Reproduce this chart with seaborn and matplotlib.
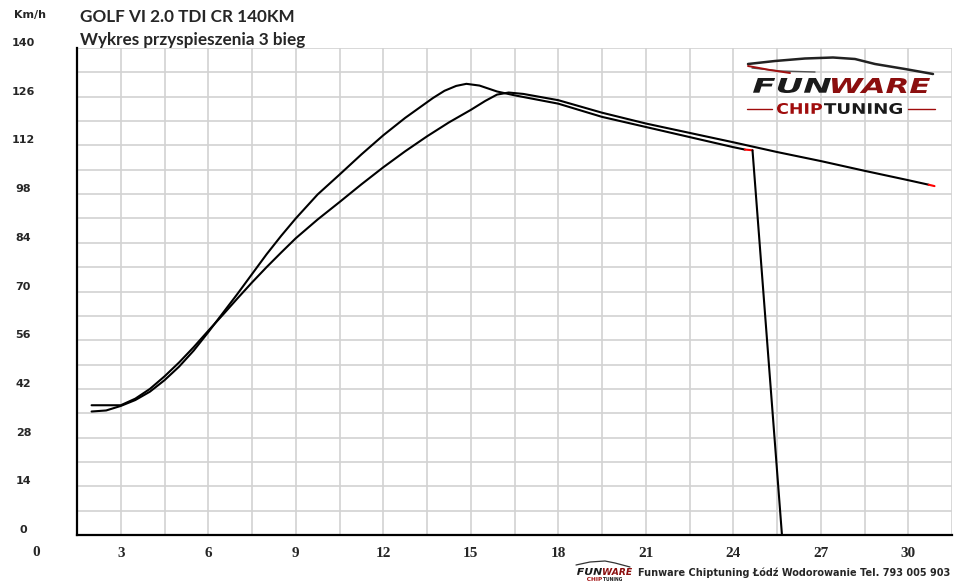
import numpy as np
import pandas as pd
import matplotlib
matplotlib.use("Agg")
import matplotlib.pyplot as plt
import seaborn as sns
from matplotlib.textpath import TextPath
from matplotlib.patches import PathPatch
from matplotlib.font_manager import FontProperties
from matplotlib.transforms import Affine2D

# speed [km/h] vs time [s], 3rd gear pull, two runs
run_a_time = [2.0, 2.5, 3.0, 3.5, 4.0, 4.5, 5.0, 5.5, 6.0, 6.5, 7.0, 7.5, 8.0, 8.5,
              9.0, 9.75, 10.5, 11.25, 12.0, 12.75, 13.25, 13.7, 14.1, 14.5, 14.85,
              15.3, 15.9, 16.5, 17.25, 18.0, 19.5, 21.0, 22.5, 24.0, 24.4, 24.66, 25.67]
run_a_speed = [35.5, 35.8, 37.1, 38.8, 41.2, 44.5, 48.4, 53.0, 58.3, 63.8, 69.3, 75.0,
               80.7, 86.0, 91.0, 97.9, 103.6, 109.4, 114.9, 119.9, 122.9, 125.6, 127.7,
               129.1, 129.7, 129.2, 127.5, 126.4, 125.2, 124.0, 120.2, 117.3, 114.4,
               111.5, 110.8, 110.6, 0.0]

run_b_time = [2.0, 2.5, 3.0, 3.5, 4.0, 4.5, 5.0, 5.5, 6.0, 6.5, 7.0, 7.5, 8.0, 8.5,
              9.0, 9.75, 10.5, 11.25, 12.0, 12.75, 13.5, 14.25, 15.0, 15.5, 15.9,
              16.3, 16.8, 17.4, 18.0, 19.5, 21.0, 22.5, 24.0, 25.5, 27.0, 28.5,
              30.0, 30.7, 30.9]
run_b_speed = [37.3, 37.3, 37.3, 39.2, 42.0, 45.6, 49.6, 54.0, 58.7, 63.3, 68.0, 72.6,
               77.0, 81.2, 85.3, 90.7, 95.7, 100.8, 105.7, 110.3, 114.6, 118.6, 122.2,
               124.8, 126.6, 127.2, 126.8, 125.9, 125.0, 121.4, 118.3, 115.6, 112.9,
               110.1, 107.5, 104.7, 102.0, 100.7, 100.3]

x_ticks = [3, 6, 9, 12, 15, 18, 21, 24, 27, 30]
y_ticks = [0, 14, 28, 42, 56, 70, 84, 98, 112, 126, 140]

title_1 = "GOLF VI 2.0 TDI CR 140KM"
title_2 = "Wykres przyspieszenia 3 bieg"
footer = "Funware Chiptuning Łódź Wodorowanie Tel. 793 005 903"

run_a = pd.DataFrame({"t": run_a_time, "v": run_a_speed})
run_b = pd.DataFrame({"t": run_b_time, "v": run_b_speed})

sns.set_style("white")
plt.rcParams["font.family"] = ["DejaVu Sans"]

W, H = 960, 584
fig = plt.figure(figsize=(W / 100, H / 100), dpi=100)
ax = fig.add_axes([77 / W, 1 - 535 / H, (952 - 77) / W, (535 - 48) / H])

# curves (black, with the short red end segment)
sns.lineplot(data=run_a.iloc[:-2], x="t", y="v", color="black", lw=1.5,
             estimator=None, sort=False, ax=ax)
sns.lineplot(data=run_a.iloc[-3:-1], x="t", y="v", color="red", lw=1.5,
             estimator=None, sort=False, ax=ax)
sns.lineplot(data=run_a.iloc[-2:], x="t", y="v", color="black", lw=1.5,
             estimator=None, sort=False, ax=ax)
sns.lineplot(data=run_b.iloc[:-1], x="t", y="v", color="black", lw=1.5,
             estimator=None, sort=False, ax=ax)
sns.lineplot(data=run_b.iloc[-2:], x="t", y="v", color="red", lw=1.5,
             estimator=None, sort=False, ax=ax)

ax.set_xlim(1.5, 31.5)
ax.set_ylim(0, 140)
ax.set_xlabel("")
ax.set_ylabel("")

ax.set_xticks(x_ticks, labels=[str(v) for v in x_ticks])
ax.set_xticks(np.arange(1.5, 31.6, 3), minor=True)
ax.set_yticks(y_ticks, labels=[str(v) for v in y_ticks])
ax.set_yticks(np.arange(7, 140, 14), minor=True)
ax.grid(True, which="both", color="#d2d2d2", lw=1.2)
ax.set_axisbelow(True)

for side in ["top", "right"]:
    ax.spines[side].set_visible(False)
for side in ["left", "bottom"]:
    ax.spines[side].set_color("black")
    ax.spines[side].set_linewidth(1.6)

ax.tick_params(axis="both", which="both", direction="out", length=3.6,
               width=1.1, color="#222222")
ax.tick_params(axis="x", which="major", pad=5)
ax.tick_params(axis="y", which="major", pad=35)
for lbl in ax.get_xticklabels():
    lbl.set_fontfamily("Liberation Serif")
    lbl.set_fontweight("bold")
    lbl.set_fontsize(11)
for lbl in ax.get_yticklabels():
    lbl.set_fontweight("bold")
    lbl.set_fontsize(8)
    lbl.set_horizontalalignment("center")
    lbl.set_verticalalignment("bottom")

# axis captions and titles
fig.text(36 / W, 1 - 553 / H, "0", ha="center", va="center",
         fontfamily="Liberation Serif", fontweight="bold", fontsize=11)
fig.text(30 / W, 1 - 15 / H, "Km/h", ha="center", va="center",
         fontweight="bold", fontsize=8)
fig.text(80 / W, 1 - 21.7 / H, title_1, ha="left", va="baseline",
         fontfamily="Lato", fontweight="bold", fontsize=12.3)
fig.text(80 / W, 1 - 45 / H, title_2, ha="left", va="baseline",
         fontfamily="Lato", fontweight="bold", fontsize=12.3)
fig.text(950 / W, 1 - 576 / H, footer, ha="right", va="baseline",
         fontweight="bold", fontsize=7)


# logo drawn from text outlines fitted into pixel boxes
def box_text(s, x0, y0, x1, y1, color, italic=True):
    fp = FontProperties(family="DejaVu Sans", weight="bold",
                        style="italic" if italic else "normal")
    path = TextPath((0, 0), s, size=10, prop=fp)
    bb = path.get_extents()
    tr = (Affine2D().translate(-bb.x0, -bb.y0)
          .scale((x1 - x0) / bb.width, (y1 - y0) / bb.height)
          .translate(x0, H - y1).scale(1 / 100) + fig.dpi_scale_trans)
    fig.add_artist(PathPatch(path, transform=tr, facecolor=color, edgecolor="none"))


def px_line(xs, ys, color, lw):
    fig.add_artist(plt.Line2D([x / W for x in xs], [1 - y / H for y in ys],
                              transform=fig.transFigure, color=color, lw=lw))


# big logo
px_line([748, 775, 805, 833, 855, 875, 905, 933], [64, 61, 58.5, 57.5, 59, 64, 69, 74], "#222222", 1.8)
px_line([752, 780, 815], [68, 71, 72], "#555555", 1.0)
px_line([748, 770, 790], [66, 70, 73], "#a01010", 1.4)
box_text("FUN", 753, 78, 831, 93, "#1a1a1a")
box_text("WARE", 832, 78, 930, 93, "#8b0e0e")
box_text("CHIP", 777, 103, 822, 114, "#a00c0c", italic=False)
box_text("TUNING", 824, 103, 902, 114, "#1a1a1a", italic=False)
px_line([747, 772], [109, 109], "#a00c0c", 1.0)
px_line([908, 935], [109, 109], "#a00c0c", 1.0)

# small footer logo
px_line([576, 590, 605, 615, 630], [565, 562, 561, 563, 567], "#333333", 0.9)
box_text("FUN", 577, 568, 602, 575, "#1a1a1a")
box_text("WARE", 603, 568, 632, 575, "#8b0e0e")
box_text("CHIP", 587, 577, 602, 581, "#a00c0c", italic=False)
box_text("TUNING", 603, 577, 622, 581, "#1a1a1a", italic=False)

fig.savefig("out.png", dpi=100)
